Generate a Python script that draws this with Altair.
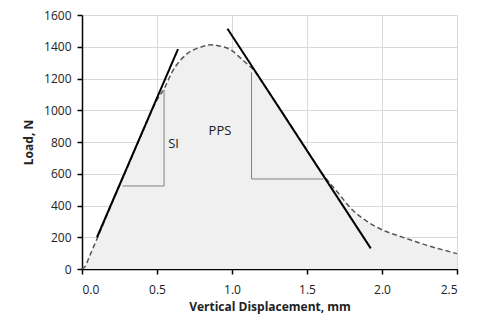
import altair as alt
import pandas as pd

# Load-displacement curve (dashed, shaded area under it)
disp = [0.0, 0.02, 0.05, 0.1, 0.2, 0.3, 0.4, 0.5, 0.55, 0.6, 0.7, 0.8, 0.86, 0.9, 1.0, 1.05,
        1.1, 1.15, 1.2, 1.3, 1.4, 1.5, 1.6, 1.7, 1.8, 1.9, 2.0, 2.1, 2.2, 2.3, 2.4, 2.5]
load = [0, 15, 80, 190, 415, 635, 855, 1065, 1140, 1240, 1355, 1400, 1412, 1408, 1375, 1335,
        1292, 1248, 1180, 1038, 893, 748, 603, 488, 375, 300, 247, 212, 180, 149, 122, 97]

# Tangent lines (solid black)
tan1_x = [0.10, 0.64]
tan1_y = [200, 1385]
tan2_x = [0.97, 1.925]
tan2_y = [1513, 130]

# Step lines (thin grey)
si_x = [0.27, 0.547, 0.547]
si_y = [523, 523, 1130]
pps_x = [1.13, 1.13, 1.61]
pps_y = [1240, 567, 567]

# Labels
lab_text = ["SI", "PPS"]
lab_x = [0.61, 0.92]
lab_y = [785, 870]

curve = pd.DataFrame({"x": disp, "y": load})
t1 = pd.DataFrame({"x": tan1_x, "y": tan1_y, "o": range(len(tan1_x))})
t2 = pd.DataFrame({"x": tan2_x, "y": tan2_y, "o": range(len(tan2_x))})
s1 = pd.DataFrame({"x": si_x, "y": si_y, "o": range(len(si_x))})
s2 = pd.DataFrame({"x": pps_x, "y": pps_y, "o": range(len(pps_x))})
labs = pd.DataFrame({"x": lab_x, "y": lab_y, "t": lab_text})

X = alt.X("x:Q", scale=alt.Scale(domain=[0, 2.5], nice=False),
          axis=alt.Axis(values=[0, 0.5, 1.0, 1.5, 2.0, 2.5], format=".1f",
                        title="Vertical Displacement, mm", labelPadding=10, titlePadding=6))
Y = alt.Y("y:Q", scale=alt.Scale(domain=[0, 1600], nice=False),
          axis=alt.Axis(values=list(range(0, 1601, 200)), format="d", title="Load, N",
                        labelPadding=6, titlePadding=8))

area = alt.Chart(curve).mark_area(color="#f0f0f0", opacity=1, interpolate="monotone").encode(x=X, y=Y)
dash = alt.Chart(curve).mark_line(color="#555555", strokeDash=[5, 3], strokeWidth=1.5,
                                  interpolate="monotone").encode(x=X, y=Y)
l1 = alt.Chart(t1).mark_line(color="black", strokeWidth=2).encode(x=X, y=Y, order="o:Q")
l2 = alt.Chart(t2).mark_line(color="black", strokeWidth=2).encode(x=X, y=Y, order="o:Q")
g1 = alt.Chart(s1).mark_line(color="#808080", strokeWidth=1).encode(x=X, y=Y, order="o:Q")
g2 = alt.Chart(s2).mark_line(color="#808080", strokeWidth=1).encode(x=X, y=Y, order="o:Q")
txt = alt.Chart(labs).mark_text(font="Open Sans", fontSize=13, color="#222222").encode(
    x=X, y=Y, text="t:N")

chart = (alt.layer(area, dash, g1, g2, l1, l2, txt)
         .properties(width=375, height=254,
                     autosize=alt.AutoSizeParams(type="none"),
                     padding={"left": 74, "top": 7, "right": 14, "bottom": 50})
         .configure_view(strokeWidth=0)
         .configure_axis(gridColor="#d9d9d9", gridWidth=1, domainColor="black",
                         domainWidth=1.5, tickColor="black", tickSize=5, tickWidth=1.5,
                         labelFont="Open Sans", labelFontSize=12, labelColor="#222222",
                         titleFont="Open Sans", titleFontSize=12, titleFontWeight="bold",
                         titleColor="#222222"))

chart.save("out.html", embed_options={"renderer": "svg", "actions": False})
